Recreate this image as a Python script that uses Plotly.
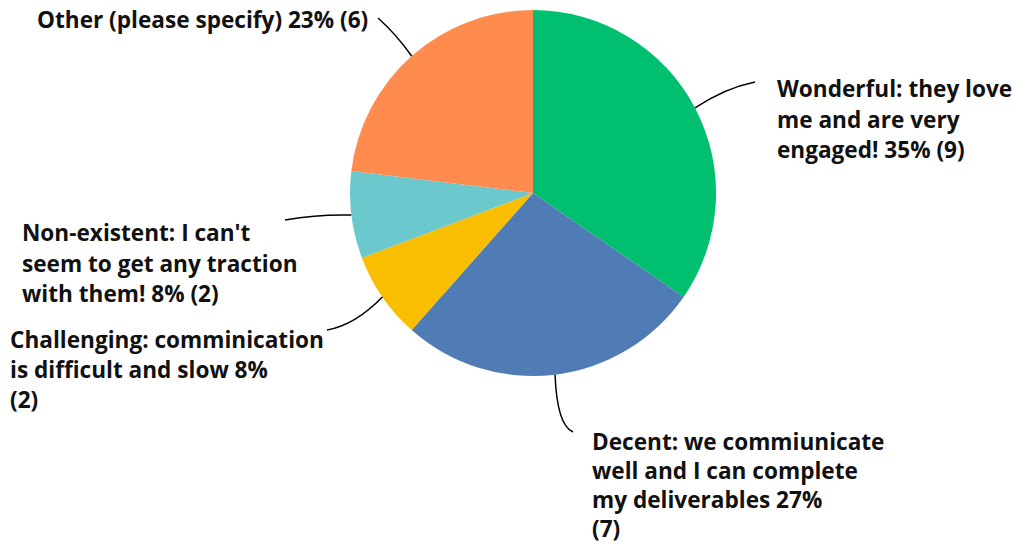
import math
import plotly.graph_objects as go

# ---- data ----
categories = [
    "Wonderful: they love me and are very engaged!",
    "Decent: we commiunicate well and I can complete my deliverables",
    "Challenging: comminication is difficult and slow",
    "Non-existent: I can't seem to get any traction with them!",
    "Other (please specify)",
]
counts = [9, 7, 2, 2, 6]
percent_labels = ["35%", "27%", "8%", "8%", "23%"]
label_lines = [
    ["Wonderful: they love", "me and are very", "engaged! 35% (9)"],
    ["Decent: we commiunicate", "well and I can complete", "my deliverables 27%", "(7)"],
    ["Challenging: comminication", "is difficult and slow 8%", "(2)"],
    ["Non-existent: I can't", "seem to get any traction", "with them! 8% (2)"],
    ["Other (please specify) 23% (6)"],
]
colors = ["#00BF6F", "#507CB6", "#F9BE00", "#6BC8CD", "#FF8B4F"]

# ---- layout geometry (pixels) ----
W, H = 1014, 544
CX, CY, R = 533, 193, 183
FONT = "Open Sans"
FS = 22.6
LINE_H = [30, 29, 30, 30, 30]

# label first-line anchor (left x, center y) and leader end / control points
label_pos = [(775, 89), (590, 441), (8, 339), (20, 233), (35, 20)]
leader_end = [(755, 82), (573, 432), (327, 330), (285, 220), (378, 18)]
leader_ctrl = [(725, 88), (557, 425), (355, 325), (320, 214), (396, 34)]


def px(x):
    return x / W


def py(y):
    return 1 - y / H


fig = go.Figure(
    go.Pie(
        labels=categories,
        values=counts,
        sort=False,
        direction="clockwise",
        rotation=0,
        marker=dict(colors=colors, line=dict(width=0)),
        textinfo="none",
        hoverinfo="label+percent+value",
        domain=dict(x=[px(CX - R), px(CX + R)], y=[py(CY + R), py(CY - R)]),
        showlegend=False,
    )
)

total = sum(counts)
cum = 0
shapes = []
annotations = []
for i, v in enumerate(counts):
    mid = (cum + v / 2) / total
    cum += v
    th = 2 * math.pi * mid
    sx, sy = CX + R * math.sin(th), CY - R * math.cos(th)
    ex, ey = leader_end[i]
    qx, qy = leader_ctrl[i]
    shapes.append(
        dict(
            type="path",
            xref="paper",
            yref="paper",
            path=f"M {px(sx)},{py(sy)} Q {px(qx)},{py(qy)} {px(ex)},{py(ey)}",
            line=dict(color="#000000", width=1.5),
        )
    )
    lx, ly = label_pos[i]
    for j, t in enumerate(label_lines[i]):
        annotations.append(
            dict(
                text=f"<b>{t}</b>",
                x=px(lx),
                y=py(ly + j * LINE_H[i]),
                xref="paper",
                yref="paper",
                xanchor="left",
                yanchor="middle",
                showarrow=False,
                font=dict(family=FONT, size=FS, color="#111111"),
            )
        )

fig.update_layout(
    width=W,
    height=H,
    margin=dict(l=0, r=0, t=0, b=0),
    paper_bgcolor="white",
    plot_bgcolor="white",
    shapes=shapes,
    annotations=annotations,
)

fig.write_html(
    "out.html",
    config={"displayModeBar": False},
    post_script="document.body.style.margin='0';document.body.style.overflow='hidden';",
)
